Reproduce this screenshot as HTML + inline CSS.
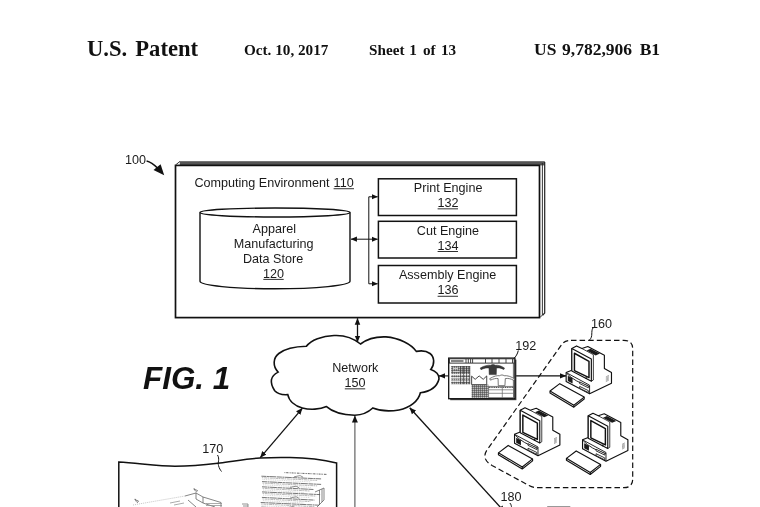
<!DOCTYPE html>
<html lang="en"><head><meta charset="utf-8"><title>US 9,782,906 B1 - FIG. 1</title>
<style>html,body{margin:0;padding:0;background:#fff;overflow:hidden}body{width:760px;height:507px}</style></head>
<body>
<svg width="760" height="507" viewBox="0 0 760 507" style="display:block;filter:blur(0.3px)">
<defs>
<marker id="ah" viewBox="0 0 10 10" refX="9.6" refY="5" markerWidth="6.6" markerHeight="6.6" markerUnits="userSpaceOnUse" orient="auto-start-reverse"><path d="M0,0.8 L10,5 L0,9.2 Z" fill="#111"/></marker>
<marker id="ahs" viewBox="0 0 10 10" refX="9.6" refY="5" markerWidth="6.2" markerHeight="6.2" markerUnits="userSpaceOnUse" orient="auto-start-reverse"><path d="M0,0.8 L10,5 L0,9.2 Z" fill="#111"/></marker>
<pattern id="hatch" width="2" height="2" patternUnits="userSpaceOnUse"><rect width="2" height="2" fill="#bbb"/><path d="M0,0H2M0,0V2" stroke="#333" stroke-width="0.9"/></pattern>


<g id="pc" fill="#fff" stroke="#111" stroke-width="1.15" stroke-linejoin="round">
  <!-- keyboard -->
  <polygon points="5.03,56.04 14.79,48.65 39.19,62.11 39.19,64.03 28.84,72.16 5.03,57.97"/>
  <polyline fill="none" points="5.03,56.04 28.84,70.24 39.19,62.11"/>
  <line x1="28.84" y1="70.24" x2="28.84" y2="72.16"/>
  <!-- silhouette -->
  <polygon points="26.83,13.52 31.57,10.92 36.89,13.52 42.81,11.51 59.38,20.15 59.38,33.40 66.48,37.54 66.48,48.20 44.59,58.85 21.15,46.42 21.15,37.54 26.83,35.18"/>
  <!-- base -->
  <polyline fill="none" points="21.15,37.54 44.59,50.21 44.59,58.85" stroke-width="0.9"/>
  <path fill="none" stroke-width="0.9" d="M 21.86,38.49 Q 29.20,46.42 44.59,51.51"/>
  <polygon fill="#1a1a1a" stroke="none" points="22.81,40.86 27.54,43.34 27.54,48.55 22.81,45.95"/>
  <polygon fill="#fff" stroke="#222" stroke-width="0.9" points="34.64,46.89 43.40,51.15 43.40,52.81 34.64,48.55"/>
  <polygon fill="#fff" stroke="#222" stroke-width="0.9" points="34.64,51.39 43.40,55.65 43.40,57.54 34.64,53.28"/>
  <g stroke="#333" stroke-width="0.7" stroke-dasharray="0.7 0.5">
    <line x1="60.92" y1="41.92" x2="63.52" y2="40.50" /><line x1="60.92" y1="43.11" x2="63.52" y2="41.69" /><line x1="60.92" y1="44.29" x2="63.52" y2="42.87" /><line x1="60.92" y1="45.47" x2="63.52" y2="44.05" /><line x1="60.92" y1="46.66" x2="63.52" y2="45.24" />
  </g>
  <!-- monitor -->
  <polygon points="26.83,13.52 46.36,23.93 46.36,46.18 26.83,36.01"/>
  <polyline fill="none" stroke-width="0.8" points="36.89,13.52 48.37,19.67 48.37,45.00 46.36,46.18"/>
  <polygon fill="#fff" stroke="#111" stroke-width="1.45" points="29.44,18.25 43.99,26.30 43.99,42.63 29.44,35.53"/>
  <polygon fill="#1a1a1a" stroke="none" points="41.63,15.41 45.53,13.76 54.88,18.61 50.74,20.50"/>
  <circle cx="41.27" cy="43.11" r="0.9" fill="#111" stroke="none"/>
</g>

</defs>
<rect width="760" height="507" fill="#fff"/>
<g font-family="'Liberation Serif', serif" font-weight="bold" fill="#111">
<text x="87.00" y="55.5" font-size="22.6">U.S.</text>
<text x="135.3" y="55.5" font-size="22.6">Patent</text>
<text x="244" y="55.3" font-size="15.2">Oct. 10, 2017</text>
<text x="369.10" y="55.3" font-size="15.2">Sheet</text>
<text x="409.3" y="55.3" font-size="15.2">1</text>
<text x="423" y="55.3" font-size="15.2">of</text>
<text x="441" y="55.3" font-size="15.2">13</text>
<text x="534" y="55.3" font-size="17.5">US</text>
<text x="562" y="55.3" font-size="17.5">9,782,906</text>
<text x="639.70" y="55.3" font-size="17.5">B1</text>
</g>
<g stroke="#111" fill="none" stroke-width="1.3">
<polygon points="180,161.3 545,161.3 545,313 540,317.5 540,165 175.5,165" fill="#fff" stroke="none"/>
<rect x="179.8" y="161.2" width="365" height="4.2" fill="#555" stroke="none"/>
<path d="M544.7,162 V313 L542.6,315.3" stroke="#222" stroke-width="1.2"/>
<path d="M542.4,163 V315 L540.2,317.3" stroke="#222" stroke-width="0.9"/>
<rect x="175.5" y="165.4" width="364" height="152.2" fill="#fff" stroke-width="1.7"/>
<rect x="378.4" y="178.8" width="138" height="36.69999999999999" stroke-width="1.5"/>
<rect x="378.4" y="221.3" width="138" height="36.69999999999999" stroke-width="1.5"/>
<rect x="378.4" y="265.5" width="138" height="37.5" stroke-width="1.5"/>
<path d="M200,212.5 V281.3 A75,7.5 0 0 0 350,281.3 V212.5" stroke-width="1.4"/>
<ellipse cx="275" cy="212.5" rx="75" ry="4.5" stroke-width="1.4"/>
<g stroke-width="1" marker-end="url(#ahs)">
<path d="M351,239.2 H377.6" marker-start="url(#ahs)"/>
<path d="M368.8,239.2 V196.8 H377.6"/>
<path d="M368.8,239.2 V283.8 H377.6"/>
</g>
</g>
<path d="M146.6,161 C150.5,161.8 154,164.5 158,168.5" fill="none" stroke="#111" stroke-width="1.6"/>
<path d="M164.2,175.2 L153.5,169.9 L160.6,164.3 Z" fill="#111"/>
<path d="M175.5,165 L180,161.4" stroke="#333" stroke-width="1"/>
<path d="M360.5,344 C352,337 343,335 334,335.5 C322,336 311,340 306.4,346.3 C298,346.5 286,348 278.8,353.5 C273,358 272.5,366 278.1,372.1 C270,376 269.5,383 274.7,390.8 C277.5,394 282,395 287.8,394.6 C289,401 295,406 302.3,408 C310,410 320,409.5 326.5,406.6 C332,411.5 341,414.8 354.8,415.3 C362,415 368,412.5 372.8,408 C380,411 390,411.5 399,410 C410,408 418.5,401 420.4,392.8 C430,391.5 437,387 439,379 C439.5,375 436,371 430.8,369.4 C435,364 434.5,357 430,353.5 C426,350.5 421,350.5 416.3,351.4 C411,344 399,338 385.9,336.9 C376,336.5 367,339 360.5,344 Z" fill="#fff" stroke="#111" stroke-width="1.6" stroke-linejoin="miter"/>
<g stroke="#111" stroke-width="1.3" fill="none" marker-end="url(#ah)" marker-start="url(#ah)">
<path d="M357.5,318.3 V342"/>
<path d="M302.3,408.3 L260.3,457.6"/>
<path d="M409.7,407.8 L504.7,512"/>
</g>
<path d="M448.5,375.9 H439" stroke="#111" stroke-width="1.1" fill="none" marker-end="url(#ah)"/>
<path d="M516,375.9 H566" stroke="#111" stroke-width="1.1" fill="none" marker-end="url(#ah)"/>
<path d="M354.9,507 V416" stroke="#555" stroke-width="1.1" fill="none"/>
<path d="M354.9,415.6 L351.9,422.6 L357.9,422.6 Z" fill="#111"/>
<path d="M118.8,507 V462 C140,463.5 160,466.3 175,466.3 C195,466.3 208,464.5 220,463 C235,461 248,458.6 260,458 C272,457.3 282,457.3 290,457.5 C306,457.7 323,459.6 336.6,462.9 V507" fill="#fff" stroke="#111" stroke-width="1.5"/>
<path d="M217.5,455 C220,459 217.5,462.5 218.5,465.5 C219.3,468.5 220.3,470 221.5,471.5" fill="none" stroke="#111" stroke-width="1"/>
<g stroke="#888" stroke-width="0.7" fill="none">
<path d="M261.4,476.2 L321.1,478.9" stroke="#555" stroke-width="0.8" stroke-dasharray="5 0.5 2 0.4 7 0.6"/>
<path d="M261.9,477.7 L317.1,480.4" stroke="#999" stroke-width="0.7" stroke-dasharray="1.5 0.7 3 0.5"/>
<path d="M262.4,479.4 L311.1,481.9" stroke="#bbb" stroke-width="0.6" stroke-dasharray="1 0.8"/>
<path d="M294.1,476.8 l6,-1.2 l3,1.6" stroke="#666" stroke-width="0.7"/>
<path d="M262.0,481.6 L321.1,484.4" stroke="#555" stroke-width="0.8" stroke-dasharray="5 0.5 2 0.4 7 0.6"/>
<path d="M262.5,483.1 L317.1,485.9" stroke="#999" stroke-width="0.7" stroke-dasharray="1.5 0.7 3 0.5"/>
<path d="M263.0,484.8 L311.1,487.4" stroke="#bbb" stroke-width="0.6" stroke-dasharray="1 0.8"/>
<path d="M262.0,486.8 L313.6,489.5" stroke="#555" stroke-width="0.8" stroke-dasharray="5 0.5 2 0.4 7 0.6"/>
<path d="M262.5,488.3 L309.6,491.0" stroke="#999" stroke-width="0.7" stroke-dasharray="1.5 0.7 3 0.5"/>
<path d="M263.0,490.0 L303.6,492.5" stroke="#bbb" stroke-width="0.6" stroke-dasharray="1 0.8"/>
<path d="M290.1,487.4 l6,-1.2 l3,1.6" stroke="#666" stroke-width="0.7"/>
<path d="M262.0,491.9 L320.1,494.6" stroke="#555" stroke-width="0.8" stroke-dasharray="5 0.5 2 0.4 7 0.6"/>
<path d="M262.5,493.4 L316.1,496.1" stroke="#999" stroke-width="0.7" stroke-dasharray="1.5 0.7 3 0.5"/>
<path d="M263.0,495.1 L310.1,497.6" stroke="#bbb" stroke-width="0.6" stroke-dasharray="1 0.8"/>
<path d="M261.9,497.4 L314.4,500.1" stroke="#555" stroke-width="0.8" stroke-dasharray="5 0.5 2 0.4 7 0.6"/>
<path d="M262.4,498.9 L310.4,501.6" stroke="#999" stroke-width="0.7" stroke-dasharray="1.5 0.7 3 0.5"/>
<path d="M262.9,500.6 L304.4,503.1" stroke="#bbb" stroke-width="0.6" stroke-dasharray="1 0.8"/>
<path d="M290.2,498.0 l6,-1.2 l3,1.6" stroke="#666" stroke-width="0.7"/>
<path d="M260.7,502.5 L319.0,505.2" stroke="#555" stroke-width="0.8" stroke-dasharray="5 0.5 2 0.4 7 0.6"/>
<path d="M261.2,504.0 L315.0,506.7" stroke="#999" stroke-width="0.7" stroke-dasharray="1.5 0.7 3 0.5"/>
<path d="M261.7,505.7 L309.0,508.2" stroke="#bbb" stroke-width="0.6" stroke-dasharray="1 0.8"/>
<path d="M261.3,507.1 L313.4,509.8" stroke="#555" stroke-width="0.8" stroke-dasharray="5 0.5 2 0.4 7 0.6"/>
<path d="M261.8,508.6 L309.4,511.3" stroke="#999" stroke-width="0.7" stroke-dasharray="1.5 0.7 3 0.5"/>
<path d="M262.3,510.3 L303.4,512.8" stroke="#bbb" stroke-width="0.6" stroke-dasharray="1 0.8"/>
<path d="M287.1,507.7 l6,-1.2 l3,1.6" stroke="#666" stroke-width="0.7"/>
<path d="M284.5,472.6 L326.9,474.4" stroke="#666" stroke-width="1" stroke-dasharray="0.8 0.9 2 0.5 0.6 0.6"/>
<path d="M315,492 L324,488 V500 L317,507 M319.5,490 V505 M322,489 V502" stroke="#555" stroke-width="0.7"/>
<path d="M134.5,499.5 l4,1.5 l-1.5,2 m-1.8,-4.2 l1.2,3 M193.5,489 l4,1.5 l-1.5,2 m-1.8,-4.2 l1.2,3" stroke="#666" stroke-width="0.8"/>
<path d="M133,505 L185,496" stroke="#aaa" stroke-dasharray="1 1"/>
<path d="M185,496 L196,493 L203,497 L203,503 M196,493 V499 L203,503 L215,507 M203,497 L221,502.5 V507 M188,500 L196,507" stroke="#666" stroke-width="0.8"/>
<path d="M170,503 l10,-2 m-6,4 l10,-2 M206,503.5 H222 M206,505.5 H222" stroke="#888" stroke-width="0.7"/>
<path d="M242,504 h6 v3 M243,506 h5" stroke="#777" stroke-width="0.8"/>
</g>
<g>
<rect x="450.2" y="359.6" width="66.2" height="40.6" fill="#444"/>
<rect x="448.7" y="358.1" width="66.2" height="40.6" fill="#fff" stroke="#111" stroke-width="1.3"/>
<rect x="449.4" y="358.8" width="64.8" height="4.3" fill="#fff" stroke="#222" stroke-width="0.9"/>
<path d="M451,361 H463.5" stroke="#333" stroke-width="1.2"/>
<path d="M466,359V363 M468.3,359V363 M470.6,359V363 M472.6,359V363 M485.5,359V363 M492,359V363 M499,359V363 M506,359V363 M512.5,359V363" stroke="#333" stroke-width="0.9"/>
<path d="M513.4,363 V398.5" stroke="#444" stroke-width="0.8"/>
<rect x="451" y="366" width="19.2" height="18.2" fill="url(#hatch)"/>
<path d="M451,374.6H470.2 M451,377.8H470.2 M451,381.2H470.2" stroke="#fff" stroke-width="1.2" opacity="0.9"/>
<path d="M460.6,366V384.2 M463.6,366V384.2 M466.6,366V384.2 M469.6,366V384.2" stroke="#333" stroke-width="0.7"/>
<path d="M453,368.5h5 M453,371.5h6" stroke="#ddd" stroke-width="0.8"/>
<rect x="471.6" y="384.6" width="16.8" height="13.2" fill="url(#hatch)"/>
<polygon points="471.64,384.67 471.64,376.13 475.16,379.34 479.18,375.93 483.20,379.34 486.72,375.93 486.72,384.67" fill="#fff" stroke="#333" stroke-width="0.9"/>
<path d="M480.19,368.09 C484.21,365.57 488.23,364.87 490.74,365.27 C491.75,364.27 494.26,364.27 495.27,365.27 C498.28,364.87 501.80,366.07 504.52,368.09 L503.81,369.59 C501.30,368.09 498.79,367.58 496.47,368.09 L496.27,374.62 489.23,374.62 489.03,368.09 C486.72,367.58 483.71,368.29 480.99,369.69 Z" fill="#3a3a3a" stroke="#222" stroke-width="0.5"/>
<path d="M489.74,378.64 C493.76,376.13 497.28,375.32 499.79,375.73 C500.80,374.72 503.11,374.72 504.11,375.73 C507.33,375.32 511.35,376.63 514.57,378.94 L513.76,380.35 C510.85,378.64 507.83,378.14 505.32,378.54 L504.92,385.68 498.28,385.68 498.08,378.54 C495.77,378.14 493.05,378.94 490.44,380.15 Z" fill="#fff" stroke="#555" stroke-width="0.8"/>
<rect x="488.7" y="386.3" width="24.7" height="11.4" fill="#fff" stroke="#555" stroke-width="0.7"/>
<path d="M488.7,387.4H513.4" stroke="#555" stroke-width="1.2" stroke-dasharray="1.2 0.6"/>
<path d="M488.7,389.8H513.4 M488.7,393.3H513.4 M502.3,386.3V397.7" stroke="#666" stroke-width="0.7"/>
</g>
<path d="M518.3,350.5 C517.5,354 516,356.5 513.8,358.5" fill="none" stroke="#111" stroke-width="1"/>
<path d="M571,340.3 H623.8 Q632.7,340.3 632.7,349 V478.9 Q632.7,487.7 623.8,487.7 H537 Q533,487.7 529,485.5 L492,465.5 Q481,459 487,450 L561.5,344.8 Q564.5,340.3 571,340.3 Z" fill="none" stroke="#111" stroke-width="1.2" stroke-dasharray="5.5 3.1"/>
<path d="M593,328 C590.5,331.5 593.5,336.5 589.3,340.2" fill="none" stroke="#111" stroke-width="1"/>
<use href="#pc" x="545" y="335"/>
<use href="#pc" x="493.4" y="396.8"/>
<use href="#pc" x="561.4" y="402.3"/>
<path d="M509.8,503 C511.5,504.5 511,506 512,508" fill="none" stroke="#111" stroke-width="1"/>
<path d="M547.2,506.6 H570.3" stroke="#999" stroke-width="1.2"/>
<g font-family="'Liberation Sans', sans-serif" fill="#1a1a1a">
<text x="125.10" y="163.8" font-size="12.6">100</text>
<text x="194.40" y="187" font-size="12.6">Computing Environment</text>
<text x="333.6" y="187" font-size="12.6">110</text>
<rect x="333.6" y="188.3" width="20.4" height="0.9"/>
<text x="252.60" y="233" font-size="12.6">Apparel</text>
<text x="233.80" y="247.6" font-size="12.6">Manufacturing</text>
<text x="243.00" y="262.5" font-size="12.6">Data Store</text>
<text x="263.00" y="277.5" font-size="12.6">120</text>
<rect x="263.30" y="278.9" width="20.4" height="0.9"/>
<text x="413.80" y="191.8" font-size="12.6">Print Engine</text>
<text x="437.60" y="207" font-size="12.6">132</text>
<rect x="437.60" y="208.4" width="20.4" height="0.9"/>
<text x="416.80" y="234.5" font-size="12.6">Cut Engine</text>
<text x="437.60" y="249.6" font-size="12.6">134</text>
<rect x="437.60" y="251.0" width="20.4" height="0.9"/>
<text x="398.90" y="278.6" font-size="12.6">Assembly Engine</text>
<text x="437.60" y="294.4" font-size="12.6">136</text>
<rect x="437.60" y="295.79999999999995" width="20.4" height="0.9"/>
<text x="332.20" y="372" font-size="12.6">Network</text>
<text x="344.40" y="387" font-size="12.6">150</text>
<rect x="344.80" y="388.4" width="20.4" height="0.9"/>
<text x="515.30" y="349.5" font-size="12.6">192</text>
<text x="590.90" y="327.6" font-size="12.6">160</text>
<text x="202.20" y="453" font-size="12.6">170</text>
<text x="500.40" y="500.9" font-size="12.6">180</text>
<text x="143" y="389.3" font-size="31.4" font-weight="bold" font-style="italic" fill="#111">FIG. 1</text>
</g>
</svg>
</body></html>
